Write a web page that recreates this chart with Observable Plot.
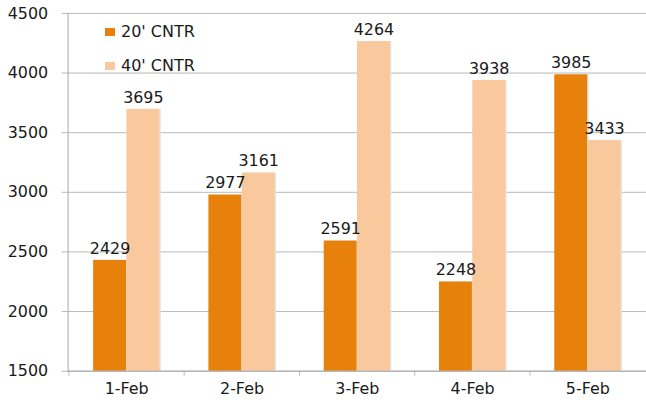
<!DOCTYPE html>
<html>
<head>
<meta charset="utf-8">
<script src="https://cdn.jsdelivr.net/npm/d3@7"></script>
<script src="https://cdn.jsdelivr.net/npm/@observablehq/plot@0.6"></script>
<style>
  html, body { margin: 0; padding: 0; background: #fff; overflow: hidden; }
  #wrap { position: relative; width: 646px; height: 403px; overflow: hidden; }
  .legend { position: absolute; left: 105px; font: 16px "DejaVu Sans", Verdana, sans-serif; color: #1a1a1a; display: flex; align-items: center; }
  .legend .sw { width: 10px; height: 8px; margin-right: 6px; }
</style>
</head>
<body>
<div id="wrap"></div>
<script>
const dates = ["1-Feb", "2-Feb", "3-Feb", "4-Feb", "5-Feb"];
const series = ["20' CNTR", "40' CNTR"];
const cntr20 = [2429, 2977, 2591, 2248, 3985];
const cntr40 = [3695, 3161, 4264, 3938, 3433];
const yTicks = [1500, 2000, 2500, 3000, 3500, 4000, 4500];
const colors = ["#E8800C", "#F9C89C"];

const d20 = dates.map((d, i) => ({date: d, value: cntr20[i]}));
const d40 = dates.map((d, i) => ({date: d, value: cntr40[i]}));

const step = (650 - 68) / dates.length;
const barW = 33.5;
const outer = (step - 2 * barW) / 2;
const font = '"DejaVu Sans", Verdana, sans-serif';

const chart = Plot.plot({
  width: 650,
  height: 403,
  marginLeft: 68,
  marginRight: 0,
  marginTop: 13,
  marginBottom: 30,
  style: {fontFamily: font, fontSize: "16px", color: "#1a1a1a", background: "#fff"},
  x: {domain: dates, padding: 0, label: null},
  y: {domain: [1500, 4500], ticks: yTicks, label: null},
  marks: [
    Plot.gridY(yTicks, {stroke: "#b8b8b8", strokeOpacity: 1, strokeWidth: 1}),
    // shadows
    Plot.barY(d20, {x: "date", y1: 1500, y2: "value", insetLeft: outer + 1.5, insetRight: step - outer - barW - 1.5, fill: "#e2e2e2"}),
    Plot.barY(d40, {x: "date", y1: 1500, y2: "value", insetLeft: outer + barW + 1.5, insetRight: outer - 1.5, fill: "#e2e2e2"}),
    Plot.barY(d20, {x: "date", y1: 1500, y2: "value", insetLeft: outer, insetRight: step - outer - barW, fill: colors[0]}),
    Plot.barY(d40, {x: "date", y1: 1500, y2: "value", insetLeft: outer + barW, insetRight: outer, fill: colors[1]}),
    Plot.text(d20, {x: "date", y: "value", text: d => String(d.value), dx: -(barW / 2), dy: -12, fill: "#1a1a1a", fontSize: 16}),
    Plot.text(d40, {x: "date", y: "value", text: d => String(d.value), dx: barW / 2, dy: -12, fill: "#1a1a1a", fontSize: 16}),
    Plot.axisY(yTicks, {tickSize: 6, tickPadding: 14, tickFormat: "d", stroke: "#b8b8b8", fill: "#1a1a1a", fontSize: 16, label: null}),
    Plot.axisX({tickSize: 5, dx: -step / 2, text: null, stroke: "#b8b8b8", label: null}),
    Plot.axisX({tickSize: 0, tickPadding: 12, fill: "#1a1a1a", fontSize: 16, label: null}),
    Plot.frame({anchor: "left", stroke: "#a6a6a6"}),
    Plot.frame({anchor: "bottom", stroke: "#a6a6a6"})
  ]
});

const wrap = document.getElementById("wrap");
wrap.appendChild(chart);
series.forEach((s, i) => {
  const el = document.createElement("div");
  el.className = "legend";
  el.style.top = (i === 0 ? 22 : 56) + "px";
  el.innerHTML = `<span class="sw" style="background:${colors[i]}"></span><span>${s}</span>`;
  wrap.appendChild(el);
});
</script>
</body>
</html>
